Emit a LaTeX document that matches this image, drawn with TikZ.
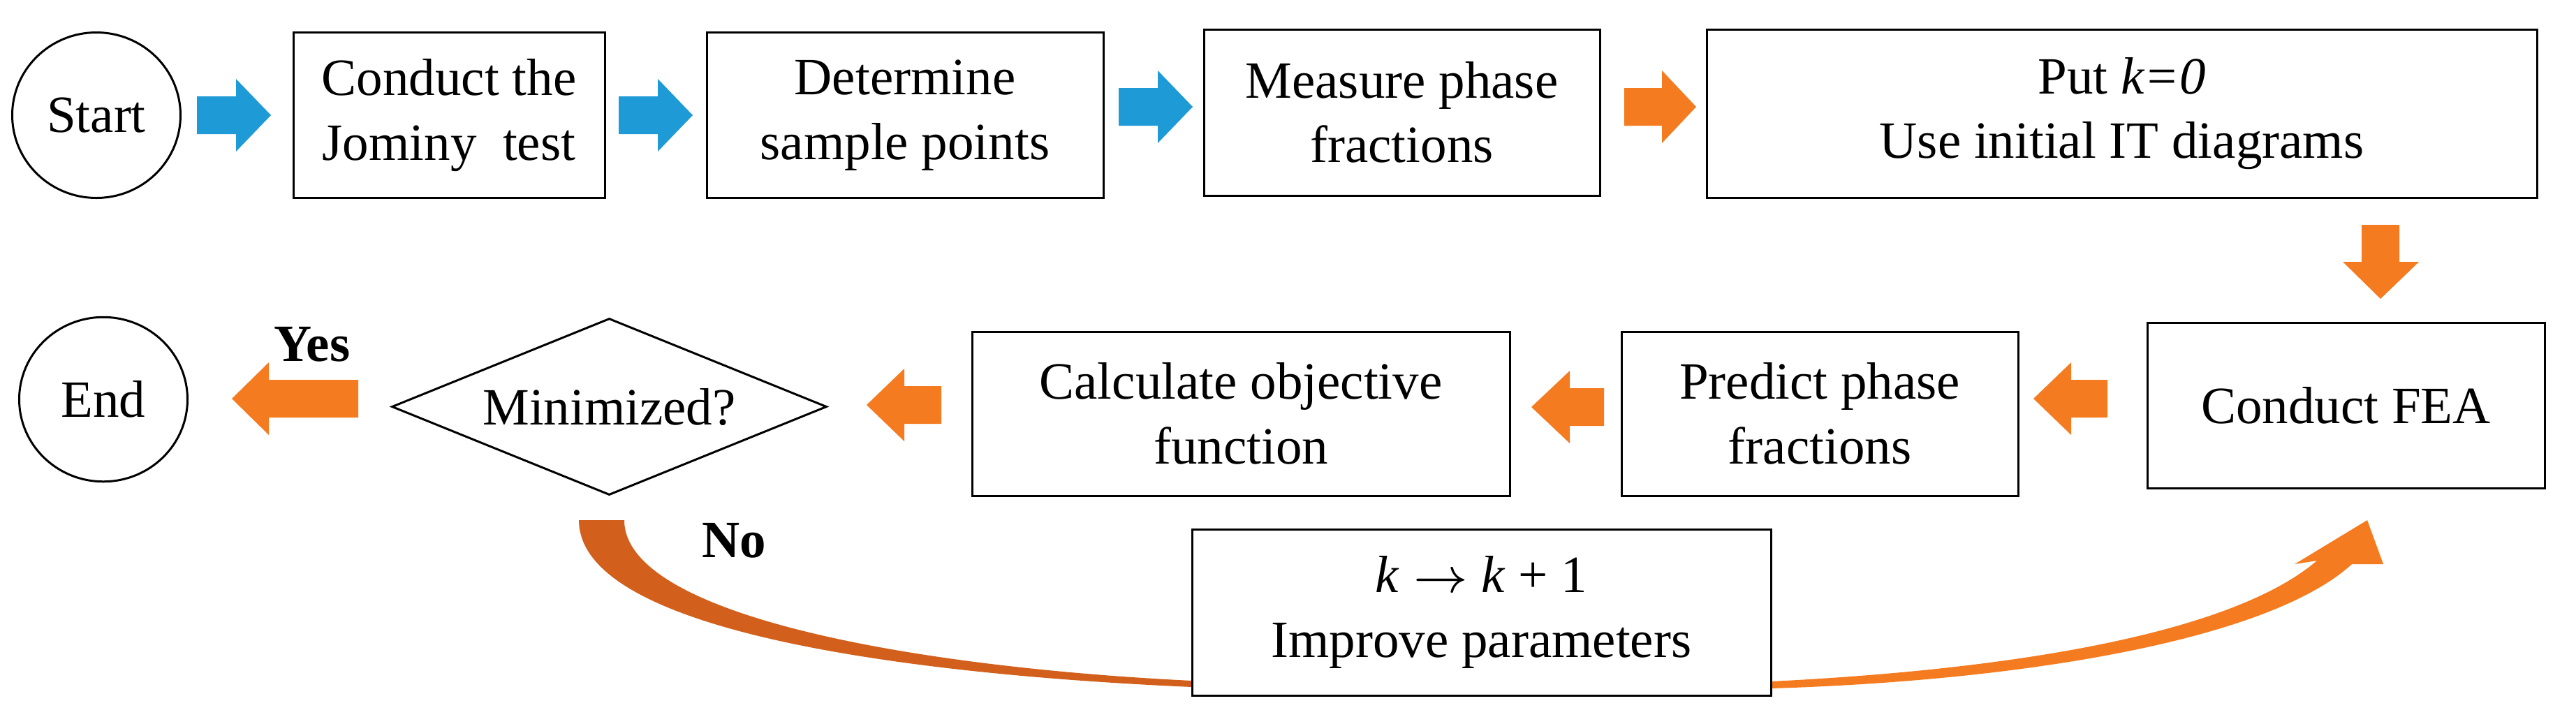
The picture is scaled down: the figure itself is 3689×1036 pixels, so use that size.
\documentclass[tikz,border=0pt]{standalone}
\usepackage{fontspec}
\setmainfont{Liberation Serif}
\usetikzlibrary{shapes.geometric}
\definecolor{bl}{HTML}{1E9AD6}
\definecolor{orr}{HTML}{F47B20}
\definecolor{ord}{HTML}{D2601C}
\tikzset{
  box/.style={draw,line width=0.3pt,inner sep=0pt,align=center,font=\fontsize{7.5}{9.25}\selectfont},
  lbl/.style={font=\fontsize{7.5}{9.25}\selectfont\bfseries},
}
\newcommand\myR[5]{\fill[#5] (#1,#4-27)--(#2,#4-27)--(#2,#4-52)--(#3,#4)--(#2,#4+52)--(#2,#4+27)--(#1,#4+27)--cycle;}
\newcommand\myL[5]{\fill[#5] (#3,#4-27)--(#2,#4-27)--(#2,#4-52)--(#1,#4)--(#2,#4+52)--(#2,#4+27)--(#3,#4+27)--cycle;}
\begin{document}
\begin{tikzpicture}[x=0.1pt,y=-0.1pt]
\useasboundingbox (0,0) rectangle (3689,1036);
\node[box,ellipse,minimum width=24.1pt,minimum height=23.7pt] (start) at (138,165) {Start};
\node[box,minimum width=44.6pt,minimum height=23.7pt] (b1) at (643,165) {Conduct the\\Jominy\ \ test};
\node[box,minimum width=56.8pt,minimum height=23.7pt] (b2) at (1296,165) {Determine\\sample points};
\node[box,minimum width=56.7pt,minimum height=23.8pt] (b3) at (2007.5,161) {Measure phase\\fractions};
\node[box,minimum width=118.9pt,minimum height=24.1pt] (b4) at (3038.5,162.5) {Put \textit{k=0}\\Use initial IT diagrams};
\node[box,minimum width=56.9pt,minimum height=23.65pt] (fea) at (3359.5,581) {Conduct FEA};
\node[box,minimum width=56.8pt,minimum height=23.5pt] (pred) at (2606,592.5) {Predict phase\\fractions};
\node[box,minimum width=77pt,minimum height=23.5pt] (calc) at (1777,592.5) {Calculate objective\\function};
\node[box,diamond,aspect=2.46,minimum width=62.3pt,minimum height=25.3pt] (dia) at (872.5,582.5) {Minimized?};
\node[box,ellipse,minimum width=24.1pt,minimum height=23.55pt] (end) at (148,572) {End};
% curved feedback arrow
\fill[ord] (829,745) .. controls (829,905) and (1300,966) .. (1707,984) -- (1707,975) .. controls (1300,955) and (894,880) .. (894,745) -- cycle;
\fill[orr] (2536,976) .. controls (2900,958) and (3200,904) .. (3318,803) -- (3286,808) -- (3390,745) -- (3413,808) -- (3368,808) .. controls (3250,916) and (2900,975) .. (2536,986) -- cycle;
\node[box,fill=white,minimum width=82.9pt,minimum height=23.8pt] (imp) at (2121.5,877) {\textit{k} $\rightarrow$ \textit{k} + 1\\Improve parameters};
\node[lbl] (yes) at (447,493) {Yes};
\node[lbl] (no) at (1051,774) {No};
% block arrows
\myR{282}{338}{388}{165}{bl}
\myR{886}{942}{992}{165}{bl}
\myR{1602}{1658}{1708}{153}{bl}
\myR{2326}{2380}{2429}{153}{orr}
\fill[orr] (3382,322)--(3436,322)--(3436,375)--(3464,375)--(3409,428)--(3355,375)--(3382,375)--cycle;
\myL{2912}{2966}{3018}{571}{orr}
\myL{2193}{2248}{2297}{583}{orr}
\myL{1241}{1295}{1348}{580}{orr}
\myL{332}{385}{513}{571}{orr}
\end{tikzpicture}
\end{document}
